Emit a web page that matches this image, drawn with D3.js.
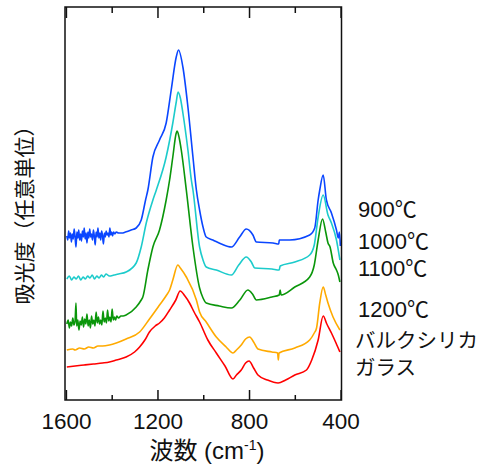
<!DOCTYPE html>
<html lang="ja">
<head>
<meta charset="utf-8">
<title>IR absorption spectra</title>
<script src="https://cdn.jsdelivr.net/npm/d3@7/dist/d3.min.js"></script>
<style>
  body { margin: 0; background: #fff; }
  text { font-family: "Liberation Sans", Arial, "Noto Sans CJK JP", sans-serif; fill: #111; }
</style>
</head>
<body>
<script>
// spectra: [wavenumber cm-1, absorbance (arb.)]
var s900 = [[1596,1.64],[1592,1.60],[1588,1.69],[1584,1.62],[1580,1.67],[1576,1.58],[1572,1.66],[1568,1.61],[1564,1.71],[1560,1.63],[1556,1.53],[1552,1.68],[1548,1.62],[1544,1.70],[1540,1.60],[1536,1.66],[1532,1.59],[1528,1.69],[1524,1.63],[1520,1.72],[1516,1.61],[1512,1.67],[1508,1.57],[1504,1.68],[1500,1.62],[1496,1.71],[1492,1.63],[1488,1.66],[1484,1.60],[1480,1.70],[1476,1.64],[1472,1.55],[1468,1.68],[1464,1.63],[1460,1.72],[1456,1.62],[1452,1.67],[1448,1.60],[1444,1.69],[1440,1.64],[1436,1.56],[1432,1.67],[1428,1.63],[1424,1.69],[1420,1.65],[1416,1.67],[1412,1.63],[1408,1.72],[1404,1.65],[1400,1.68],[1396,1.64],[1392,1.68],[1386,1.66],[1380,1.68],[1370,1.67],[1355,1.67],[1340,1.68],[1315,1.70],[1293,1.72],[1271,1.80],[1252,2.00],[1242,2.10],[1220,2.43],[1191,2.60],[1162,2.77],[1140,3.10],[1118,3.43],[1108,3.50],[1089,3.33],[1067,2.93],[1045,2.43],[1030,2.10],[1016,1.90],[1001,1.73],[987,1.63],[958,1.60],[921,1.56],[877,1.53],[841,1.63],[812,1.71],[783,1.65],[768,1.58],[695,1.57],[670,1.56],[668,1.60],[622,1.60],[535,1.65],[513,1.72],[498,2.00],[491,2.10],[476,2.25],[462,2.00],[440,1.87],[418,1.70],[410,1.62],[405,1.68],[401,1.54]];

var s1000 = [[1596,1.21],[1585,1.24],[1575,1.20],[1565,1.23],[1555,1.21],[1545,1.24],[1535,1.20],[1525,1.23],[1515,1.21],[1505,1.24],[1495,1.22],[1485,1.25],[1475,1.21],[1465,1.24],[1455,1.22],[1445,1.25],[1435,1.23],[1425,1.26],[1410,1.24],[1390,1.25],[1370,1.26],[1337,1.28],[1293,1.37],[1271,1.53],[1249,1.77],[1220,2.00],[1205,2.10],[1162,2.43],[1133,2.77],[1118,2.98],[1110,3.08],[1100,3.02],[1089,2.87],[1067,2.50],[1052,2.20],[1045,2.10],[1016,1.53],[1001,1.40],[987,1.33],[943,1.30],[877,1.25],[845,1.35],[812,1.43],[790,1.38],[775,1.32],[700,1.31],[668,1.30],[664,1.34],[600,1.38],[535,1.45],[515,1.55],[498,1.83],[476,2.05],[455,1.85],[440,1.77],[418,1.60],[403,1.40]];

var s1100 = [[1596,0.76],[1590,0.80],[1585,0.72],[1580,0.78],[1575,0.74],[1570,0.82],[1565,0.75],[1560,0.79],[1556,0.97],[1553,0.74],[1548,0.80],[1543,0.70],[1538,0.79],[1533,0.75],[1528,0.83],[1523,0.73],[1518,0.81],[1513,0.76],[1508,0.86],[1503,0.74],[1498,0.80],[1493,0.72],[1488,0.84],[1483,0.76],[1478,0.80],[1473,0.74],[1468,0.88],[1463,0.77],[1458,0.83],[1453,0.76],[1448,0.80],[1443,0.75],[1438,0.89],[1433,0.78],[1428,0.82],[1423,0.77],[1418,0.90],[1413,0.79],[1408,0.83],[1403,0.78],[1398,0.91],[1393,0.80],[1388,0.83],[1383,0.80],[1378,0.84],[1370,0.82],[1360,0.84],[1350,0.84],[1337,0.85],[1293,0.93],[1271,1.00],[1264,1.03],[1242,1.30],[1220,1.53],[1191,1.70],[1162,2.00],[1147,2.20],[1133,2.43],[1118,2.67],[1114,2.69],[1105,2.62],[1096,2.50],[1074,2.10],[1045,1.53],[1016,1.12],[1001,1.02],[987,0.97],[930,0.94],[877,0.92],[840,1.00],[805,1.10],[785,1.06],[768,1.00],[700,1.03],[668,1.05],[664,1.10],[660,1.05],[600,1.13],[535,1.23],[515,1.35],[498,1.60],[479,1.81],[465,1.68],[455,1.57],[446,1.53],[432,1.37],[418,1.30],[410,1.25],[403,1.18]];

var s1200 = [[1596,0.50],[1570,0.51],[1560,0.50],[1540,0.52],[1520,0.51],[1500,0.53],[1480,0.52],[1460,0.54],[1440,0.54],[1410,0.55],[1380,0.57],[1337,0.61],[1278,0.68],[1235,0.81],[1191,0.95],[1160,1.05],[1147,1.10],[1133,1.20],[1111,1.35],[1100,1.32],[1074,1.23],[1030,1.00],[1016,0.88],[987,0.78],[943,0.63],[900,0.53],[870,0.47],[855,0.50],[834,0.55],[815,0.61],[797,0.63],[780,0.58],[761,0.51],[700,0.48],[675,0.47],[672,0.40],[669,0.47],[600,0.52],[535,0.60],[515,0.67],[505,0.72],[491,0.97],[476,1.13],[465,1.05],[455,0.97],[433,0.83],[403,0.70]];

var sBulk = [[1596,0.33],[1560,0.34],[1520,0.35],[1480,0.36],[1440,0.37],[1410,0.38],[1380,0.40],[1337,0.43],[1300,0.48],[1278,0.53],[1255,0.60],[1235,0.68],[1210,0.74],[1191,0.77],[1170,0.82],[1147,0.90],[1120,1.00],[1101,1.09],[1080,1.04],[1060,0.97],[1040,0.88],[1016,0.78],[980,0.60],[943,0.47],[905,0.34],[870,0.21],[855,0.25],[834,0.30],[815,0.37],[800,0.39],[780,0.32],[761,0.25],[720,0.20],[673,0.17],[640,0.20],[600,0.25],[549,0.30],[526,0.40],[498,0.60],[476,0.84],[460,0.76],[440,0.67],[420,0.57],[403,0.48]];

var seriesData = [s900, s1000, s1100, s1200, sBulk];
var seriesNames = [["900℃"], ["1000℃"], ["1100℃"], ["1200℃"], ["バルクシリカ", "ガラス"]];
var majorTicks = [1600, 1200, 800, 400];
var minorTicks = [1400, 1000, 600];
var xTitle = "波数 (cm";
var yTitle = "吸光度（任意単位）";

// styles / layout
var colors = ["#0a46ff", "#1ccbcb", "#0a960a", "#ffaa00", "#ff0000"];
var labelY = [217, 249, 276, 317, 348];
var W = 479, H = 465;
var L = 65, R = 341.5, T = 7, B = 400;

var svg = d3.select("body").append("svg")
  .attr("width", W).attr("height", H);

var x = d3.scaleLinear().domain([1604, 396]).range([L, R]);
var y = d3.scaleLinear().domain([0, 3.93]).range([B, T]);

var line = d3.line()
  .x(function(d) { return x(d[0]); })
  .y(function(d) { return y(d[1]); })
  .curve(d3.curveMonotoneX);

svg.append("g").selectAll("path")
  .data(seriesData)
  .enter().append("path")
  .attr("d", line)
  .attr("fill", "none")
  .attr("stroke", function(d, i) { return colors[i]; })
  .attr("stroke-width", 1.6)
  .attr("stroke-linejoin", "round");

// axes (ticks pointing inward)
function tickAxis(g, axis) {
  g.call(axis);
  g.select(".domain").remove();
  g.selectAll(".tick line").attr("stroke", "#111").attr("stroke-width", 1.5);
}

var bottom = svg.append("g").attr("transform", "translate(0," + B + ")");
tickAxis(bottom, d3.axisBottom(x).tickValues(majorTicks).tickFormat(d3.format("d"))
  .tickSizeInner(-10).tickSizeOuter(0).tickPadding(13));
bottom.selectAll(".tick text").attr("font-size", 22.5).attr("fill", "#111")
  .style("font-family", '"Liberation Sans", Arial, sans-serif');

svg.append("g").attr("transform", "translate(0," + B + ")")
  .call(tickAxis, d3.axisBottom(x).tickValues(minorTicks).tickSizeInner(-5).tickSizeOuter(0).tickFormat(""));

svg.append("g").attr("transform", "translate(0," + T + ")")
  .call(tickAxis, d3.axisTop(x).tickValues(majorTicks).tickSizeInner(-11).tickSizeOuter(0).tickFormat(""));
svg.append("g").attr("transform", "translate(0," + T + ")")
  .call(tickAxis, d3.axisTop(x).tickValues(minorTicks).tickSizeInner(-6).tickSizeOuter(0).tickFormat(""));

// frame
svg.append("rect")
  .attr("x", L).attr("y", T)
  .attr("width", R - L).attr("height", B - T)
  .attr("fill", "none").attr("stroke", "#111").attr("stroke-width", 1.5);

// axis titles
var xt = svg.append("text")
  .attr("x", 207).attr("y", 459)
  .attr("text-anchor", "middle")
  .attr("font-size", 24);
xt.append("tspan").text(xTitle);
xt.append("tspan").attr("dy", -9).attr("font-size", 14).text("-1");
xt.append("tspan").attr("dy", 9).text(")");

svg.append("text")
  .attr("transform", "translate(32,210) rotate(-90)")
  .attr("text-anchor", "middle")
  .attr("font-size", 21)
  .style("font-family", '"Noto Sans CJK JP", sans-serif')
  .text(yTitle);

// series labels
seriesNames.forEach(function(lines, i) {
  var t = svg.append("text")
    .attr("x", lines.length > 1 ? 355 : 358)
    .attr("y", labelY[i])
    .attr("font-size", lines.length > 1 ? 20.5 : 22);
  lines.forEach(function(s, k) {
    t.append("tspan").attr("x", lines.length > 1 ? 355 : 358)
      .attr("dy", k === 0 ? 0 : 27).text(s);
  });
});
</script>
</body>
</html>
